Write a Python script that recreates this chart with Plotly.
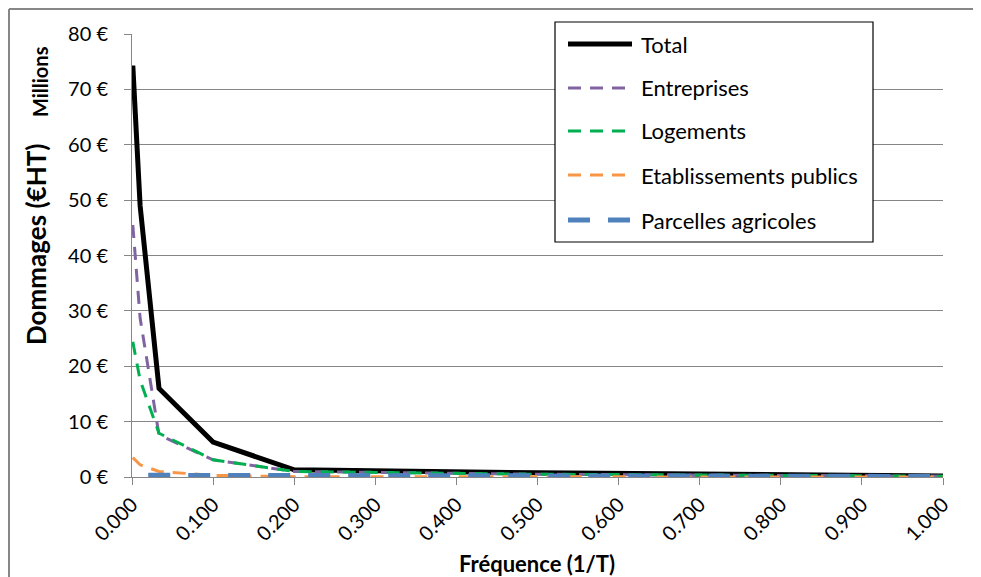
import plotly.graph_objects as go

# ── Data (Millions €) ────────────────────────────────────────────────────────

freq = [0.001, 0.01, 0.0333, 0.1, 0.2, 0.5, 1.0]
total = [74.3, 49.0, 16.0, 6.3, 1.3, 0.75, 0.2]
entreprises = [45.5, 28.7, 7.6, 3.1, 1.0, 0.5, 0.15]
logements = [24.4, 17.5, 7.9, 3.1, 1.0, 0.5, 0.15]
etablissements = [3.5, 2.2, 1.0, 0.3, 0.05, 0.05, 0.0]

freq_parcelles = [0.02, 0.0333, 0.1, 0.2, 0.5, 1.0]
parcelles = [0.3, 0.3, 0.3, 0.3, 0.2, 0.1]

x_ticks = [0.0, 0.1, 0.2, 0.3, 0.4, 0.5, 0.6, 0.7, 0.8, 0.9, 1.0]
y_ticks = [0, 10, 20, 30, 40, 50, 60, 70, 80]
y_labels = [f"{v} €" for v in y_ticks]

FONT = "Lato"
GRID = "#868686"
W, H = 981, 577
OFF = 8                      # page body margin around the figure
FW, FH = W - 2 * OFF, H - OFF
PL, PR, PT, PB = 132, 943, 34, 477   # plot area, in window pixels


def px(x):
    return (x - PL) / (PR - PL)


def py(y):
    return (PB - y) / (PB - PT)


SERIES = [
    ("Total", freq, total, dict(color="#000000", width=5)),
    ("Entreprises", freq, entreprises, dict(color="#8064A2", width=3, dash="13px,9px")),
    ("Logements", freq, logements, dict(color="#00B050", width=3, dash="13px,9px")),
    ("Etablissements publics", freq, etablissements, dict(color="#F79646", width=3, dash="13px,9px")),
    ("Parcelles agricoles", freq_parcelles, parcelles, dict(color="#4F81BD", width=5, dash="22px,18px")),
]

fig = go.Figure()
for name, xs, ys, line in SERIES:
    fig.add_trace(go.Scatter(x=xs, y=ys, name=name, mode="lines", line=line,
                             showlegend=False))

# ── Hand-drawn legend box (longer line samples than Plotly's legend) ─────────
frame = dict(color="#878787", width=2)
shapes = [
    dict(type="rect", xref="paper", yref="paper",
         x0=px(555), x1=px(873), y0=py(242), y1=py(22),
         line=dict(color="#000000", width=1.2), fillcolor="white", layer="above"),
    dict(type="line", xref="paper", yref="paper",
         x0=px(9), x1=px(981), y0=py(9), y1=py(9), line=frame),
    dict(type="line", xref="paper", yref="paper",
         x0=px(9), x1=px(9), y0=py(9), y1=py(577), line=frame),
]
annotations = []
rows = [44, 88, 131, 175, 220]
for (name, _, _, line), ry in zip(SERIES, rows):
    shapes.append(dict(type="line", xref="paper", yref="paper",
                       x0=px(568), x1=px(632), y0=py(ry), y1=py(ry),
                       line=line, layer="above"))
    annotations.append(dict(xref="paper", yref="paper", x=px(639), y=py(ry),
                            text=name, showarrow=False, xanchor="left",
                            yanchor="middle", font=dict(size=22, color="#000000")))

annotations += [
    dict(xref="paper", yref="paper", x=px(36), y=py(245), text="<b>Dommages (€HT)</b>",
         textangle=-90, showarrow=False, xanchor="center", yanchor="middle",
         font=dict(size=26, color="#000000")),
    dict(xref="paper", yref="paper", x=px(40), y=py(82), text="<b>Millions</b>",
         textangle=-90, showarrow=False, xanchor="center", yanchor="middle",
         font=dict(size=20, color="#000000")),
    dict(xref="paper", yref="paper", x=px(537), y=py(563), text="<b>Fréquence (1/T)</b>",
         showarrow=False, xanchor="center", yanchor="middle",
         font=dict(size=22, color="#000000")),
]

fig.update_layout(
    width=FW, height=FH,
    margin=dict(l=PL - OFF, r=FW - (PR - OFF), t=PT - OFF, b=FH - (PB - OFF)),
    paper_bgcolor="white", plot_bgcolor="white",
    font=dict(family=FONT, color="#000000"),
    shapes=shapes, annotations=annotations,
)
fig.update_xaxes(
    range=[0, 1], tickvals=x_ticks, tickformat=".3f", tickangle=-45,
    showgrid=False, showline=True, linecolor=GRID, linewidth=1,
    ticks="outside", ticklen=7, tickcolor=GRID,
    tickfont=dict(size=20), zeroline=False,
)
fig.update_yaxes(
    range=[0, 80], tickvals=y_ticks, ticktext=y_labels,
    showgrid=True, gridcolor=GRID, gridwidth=1,
    showline=True, linecolor=GRID, linewidth=1,
    ticks="outside", ticklen=7, tickcolor=GRID, ticklabelstandoff=12,
    tickfont=dict(size=20), zeroline=False,
)

fig.write_html("out.html")
